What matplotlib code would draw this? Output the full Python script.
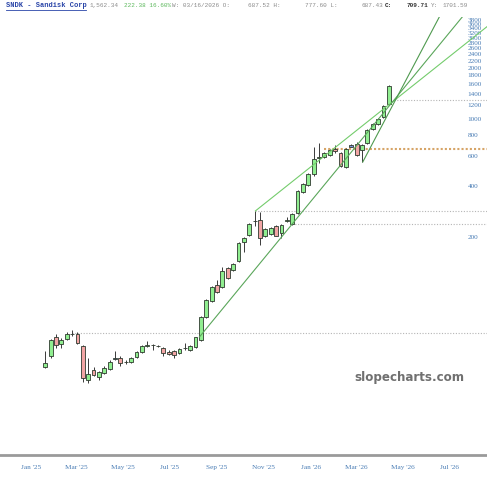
import numpy as np
import pandas as pd
import matplotlib
matplotlib.use("Agg")
import matplotlib.pyplot as plt
import matplotlib.dates as mdates
from matplotlib.lines import Line2D

#%% Weekly candles (SNDK)

first_week = "2025-01-20"

opens = [34.5, 40.0, 51.7, 47.0, 50.3, 53.5, 53.8, 45.8, 28.9, 33.1,
         30.1, 31.8, 33.5, 38.6, 38.9, 36.6, 36.8, 39.4, 42.2, 46.0,
         46.4, 45.8, 44.5, 42.2, 42.8, 41.6, 44.3, 43.3, 45.1, 49.6,
         67.8, 84.3, 104.8, 101.9, 131.9, 128.4, 145.0, 187.6, 206.3, 248.0,
         252.8, 203.5, 209.1, 233.1, 212.9, 251.0, 239.6, 279.3, 369.8, 406.8,
         472.2, 590.0, 594.6, 611.0, 662.8, 627.8, 517.0, 690.2, 709.2, 653.8,
         719.0, 866.6, 930.4, 1023.0, 1220.6]
highs = [42.8, 50.3, 53.8, 51.0, 55.3, 56.8, 55.0, 46.6, 38.9, 34.5,
         32.6, 34.9, 37.9, 42.8, 40.0, 37.9, 39.4, 42.8, 46.4, 49.0,
         47.0, 46.6, 45.1, 43.3, 43.3, 44.5, 47.6, 46.4, 51.7, 69.0,
         86.5, 103.0, 112.0, 134.2, 134.2, 141.0, 188.0, 200.8, 242.9, 285.8,
         281.9, 227.0, 230.0, 236.3, 239.6, 263.4, 278.0, 380.0, 418.0, 478.7,
         681.0, 719.0, 636.0, 662.8, 699.6, 636.0, 671.8, 709.2, 725.0, 709.2,
         866.0, 941.0, 1009.0, 1204.0, 1570.0]
lows = [34.0, 38.9, 44.5, 44.5, 49.6, 52.5, 47.0, 28.1, 27.8, 30.5,
        28.9, 31.3, 33.1, 37.9, 34.9, 35.8, 36.3, 38.9, 41.6, 45.1,
        43.3, 45.1, 40.0, 40.5, 38.9, 41.1, 43.3, 42.8, 44.5, 49.0,
        66.9, 83.2, 93.9, 100.5, 113.6, 126.6, 143.0, 163.7, 203.5, 233.1,
        180.1, 200.8, 206.3, 203.5, 198.1, 246.0, 236.3, 275.5, 364.8, 401.3,
        459.4, 548.0, 586.5, 602.7, 632.0, 519.0, 512.4, 680.0, 602.7, 555.6,
        709.2, 857.6, 917.9, 1009.0, 1204.0]
closes = [36.3, 49.6, 46.4, 49.6, 53.8, 54.0, 47.6, 29.7, 31.3, 30.9,
          32.2, 34.0, 36.8, 38.6, 36.3, 36.9, 38.9, 42.2, 45.8, 46.4,
          46.2, 45.6, 41.6, 41.1, 40.5, 43.9, 44.7, 45.8, 51.4, 67.8,
          85.4, 101.9, 95.2, 126.6, 115.1, 139.2, 185.1, 198.1, 239.6, 250.5,
          198.1, 223.9, 226.9, 204.4, 236.3, 253.0, 274.4, 374.8, 412.2, 472.2,
          578.7, 594.6, 627.8, 653.8, 640.8, 526.2, 662.8, 690.2, 611.0, 699.6,
          857.6, 930.4, 995.8, 1187.8, 1562.34]

# trendlines: two anchor points each
trend_start_dates = ["2025-10-21", "2025-08-09", "2026-03-10"]
trend_start_prices = [286.0, 51.7, 555.6]
trend_end_dates = ["2026-04-18", "2026-04-18", "2026-06-18"]
trend_end_prices = [1259.0, 1259.0, 3990.0]

# horizontal levels
level_dates = ["2025-02-24", "2025-10-20", "2025-12-08", "2026-01-19", "2026-04-20"]
level_prices = [54.4, 285.8, 238.6, 662.8, 1289.0]

price_ticks = list(range(200, 4000, 200))

#%% Figure

dates = pd.date_range(first_week, periods=len(closes), freq="7D")
x = mdates.date2num(dates)

fig = plt.figure(figsize=(4.87, 4.80), dpi=100)
ax = fig.add_axes([0, 25 / 480, 1, 438.3 / 480])
ax.set_yscale("log")
x_left = mdates.date2num(pd.Timestamp("2024-11-22"))
x_right = mdates.date2num(pd.Timestamp("2026-08-19"))
ax.set_xlim(x_left, x_right)
ax.set_ylim(10.43, 3990)

# levels
for i in range(len(level_prices)):
    x0 = mdates.date2num(pd.Timestamp(level_dates[i]))
    if i == 3:
        ax.plot([x0, x_right], [level_prices[i]] * 2, color="#d6a467",
                lw=1.5, ls=(0, (1, 1)), zorder=1)
    else:
        ax.plot([x0, x_right], [level_prices[i]] * 2, color="#b5b5b5",
                lw=0.8, ls=(0, (1, 1.5)), zorder=1)

# candles
w = 5.0
for i in range(len(closes)):
    o, h, l, c = opens[i], highs[i], lows[i], closes[i]
    ax.vlines(x[i], l, h, color="#3a3a3a", lw=0.7, zorder=2)
    if c > o:
        fc, lo, hi = "#90ee90", o, c
    elif c < o:
        fc, lo, hi = "#f2a5a5", c, o
    else:
        fc, lo, hi = "#7d8fd6", o / 1.012, o * 1.012
    ax.bar(x[i], hi - lo, bottom=lo, width=w, color=fc,
           edgecolor="#2f3a2f", linewidth=0.6, zorder=3)

# trendlines
tcols = ["#74cc6c", "#5aa65a", "#4f9a4f"]
for i in range(len(trend_start_prices)):
    x1 = mdates.date2num(pd.Timestamp(trend_start_dates[i]))
    x2 = mdates.date2num(pd.Timestamp(trend_end_dates[i]))
    p1, p2 = trend_start_prices[i], trend_end_prices[i]
    p_end = p1 * (p2 / p1) ** ((x_right - x1) / (x2 - x1))
    ax.plot([x1, x_right], [p1, p_end], color=tcols[i], lw=0.8, zorder=4)

# axes look
for s in ["top", "left", "right"]:
    ax.spines[s].set_visible(False)
ax.spines["bottom"].set_color("#9a9a9a")
ax.spines["bottom"].set_linewidth(2)

ax.set_yticks(price_ticks)
ax.set_yticklabels([str(p) for p in price_ticks])
ax.yaxis.set_minor_locator(matplotlib.ticker.NullLocator())
ax.tick_params(axis="y", left=False, labelleft=False, right=True, labelright=True,
               length=0, pad=-13.9, labelsize=5.2, labelcolor="#4a7db5")
for t in ax.get_yticklabels():
    t.set_family("Liberation Serif")

ax.xaxis.set_major_locator(mdates.MonthLocator(bymonth=[1, 3, 5, 7, 9, 11]))
ax.xaxis.set_major_formatter(mdates.DateFormatter("%b '%y"))
ax.tick_params(axis="x", length=0, pad=7, labelsize=5.2, labelcolor="#4a7db5")
for t in ax.get_xticklabels():
    t.set_family("Liberation Serif")

ax.text(0.84, 0.176, "slopecharts.com", transform=ax.transAxes, ha="center",
        va="center", fontsize=8.6, fontweight="bold", color="#707070")

# header line
hy = 1 - 5.5 / 480
mono = "Liberation Mono"
fig.text(6 / 487, hy, "SNDK - Sandisk Corp", fontsize=5, family=mono,
         fontweight="bold", color="#2a45a8", va="center")
fig.add_artist(Line2D([6 / 487, 86 / 487], [1 - 9.5 / 480] * 2,
                      color="#2a45a8", lw=0.6))
parts = [(90, "1,562.34", "#8a8a8a", "normal"),
         (124, "222.38 16.60%", "#5cb85c", "normal"),
         (172, "W: 03/16/2026 O:", "#8a8a8a", "normal"),
         (248, "687.52 H:", "#8a8a8a", "normal"),
         (305, "777.60 L:", "#8a8a8a", "normal"),
         (362, "687.43", "#8a8a8a", "normal"),
         (385, "C:", "#222222", "bold"),
         (407, "709.71", "#333333", "bold"),
         (431, "Y:", "#8a8a8a", "normal"),
         (443, "1701.59", "#8a8a8a", "normal")]
for px, s, col, fw in parts:
    fig.text(px / 487, hy, s, fontsize=4.3, family=mono, color=col,
             fontweight=fw, va="center")

fig.savefig("out.png", dpi=100)
